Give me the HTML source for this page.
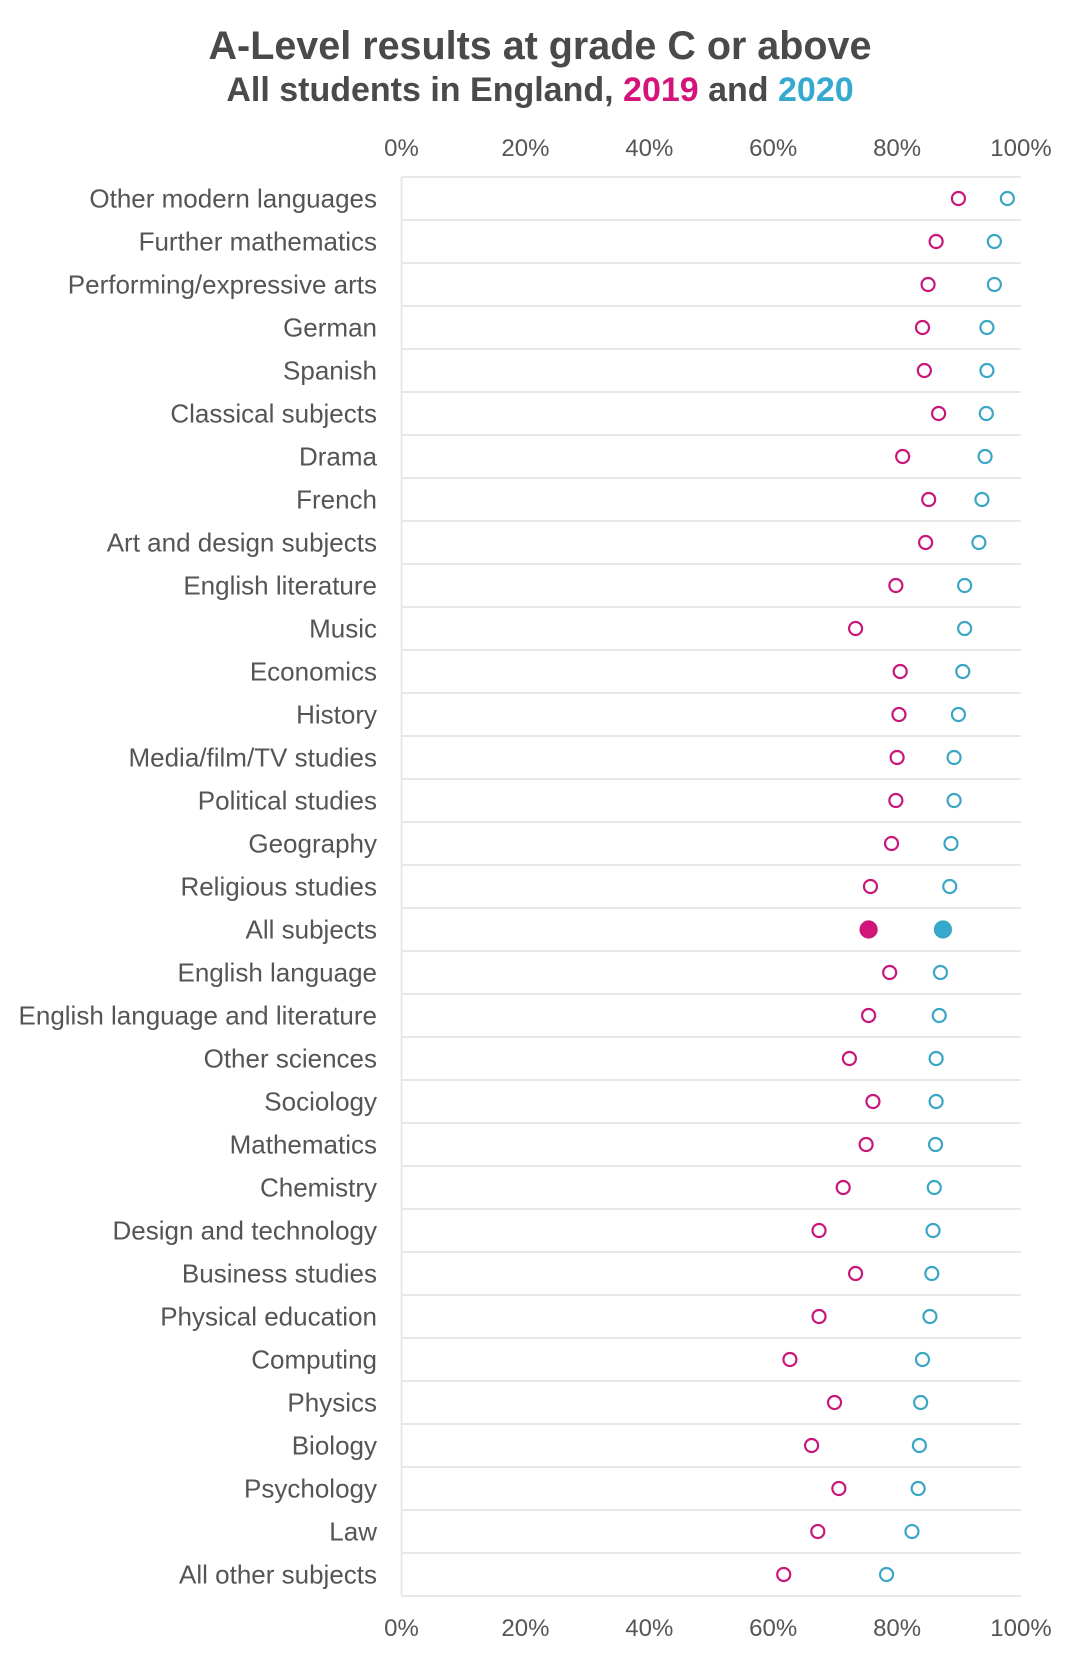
<!DOCTYPE html>
<html><head><meta charset="utf-8"><style>
html,body{margin:0;padding:0;background:#fff;}
svg text{font-family:"Liberation Sans",sans-serif;}
</style></head><body>
<svg id="chart" width="1080" height="1657" xmlns="http://www.w3.org/2000/svg">
<text x="540" y="59" text-anchor="middle" font-size="39.5" font-weight="bold" fill="#4a4a4a">A-Level results at grade C or above</text>
<text x="540" y="101" text-anchor="middle" font-size="34" font-weight="bold" fill="#4a4a4a">All students in England, <tspan fill="#d4147a">2019</tspan> and <tspan fill="#36a9cf">2020</tspan></text>
<g id="grid"></g><g id="labels"></g><g id="marks"></g><g id="ticks"></g>
</svg>
<script>
const categories = ["Other modern languages","Further mathematics","Performing/expressive arts","German","Spanish","Classical subjects","Drama","French","Art and design subjects","English literature","Music","Economics","History","Media/film/TV studies","Political studies","Geography","Religious studies","All subjects","English language","English language and literature","Other sciences","Sociology","Mathematics","Chemistry","Design and technology","Business studies","Physical education","Computing","Physics","Biology","Psychology","Law","All other subjects"];
const values2019 = [89.9,86.3,85.0,84.1,84.4,86.7,80.9,85.1,84.6,79.8,73.3,80.5,80.3,80.0,79.8,79.1,75.7,75.4,78.8,75.4,72.3,76.1,75.0,71.3,67.4,73.3,67.4,62.7,69.9,66.2,70.6,67.2,61.7];
const values2020 = [97.8,95.7,95.7,94.5,94.5,94.4,94.2,93.7,93.2,90.9,90.9,90.6,89.9,89.2,89.2,88.7,88.5,87.4,87.0,86.8,86.3,86.3,86.2,86.0,85.8,85.6,85.3,84.1,83.8,83.6,83.4,82.4,78.3];
const tickValues = [0,20,40,60,80,100];
const tickLabels = ["0%","20%","40%","60%","80%","100%"];
const highlightCategory = "All subjects";

const NS="http://www.w3.org/2000/svg";
const x0=401.5,x1=1021,yTop=177,step=43.0;
function xScale(v){return x0+(x1-x0)*v/100;}
function yScale(i){return yTop+step*(i+0.5);}
function mk(tag,attrs,parent){const e=document.createElementNS(NS,tag);for(const k in attrs)e.setAttribute(k,attrs[k]);parent.appendChild(e);return e;}
const grid=document.getElementById('grid'),labels=document.getElementById('labels'),marks=document.getElementById('marks'),ticks=document.getElementById('ticks');
const yBottom=yTop+step*categories.length;
for(let i=0;i<=categories.length;i++){
  const l=mk('line',{x1:x0,x2:x1,y1:yTop+step*i,y2:yTop+step*i,stroke:'#e8e8e8','stroke-width':2},grid);
  
  
}
const ax=mk('line',{x1:x0,x2:x0,y1:yTop,y2:yBottom,stroke:'#e8e8e8','stroke-width':2},grid);


categories.forEach((c,i)=>{
  const t=mk('text',{x:377,y:yScale(i)+9,'text-anchor':'end','font-size':26,fill:'#555'},labels);
  t.textContent=c;
  
  
  const filled=c===highlightCategory;
  const a=mk('circle',{cx:xScale(values2019[i]),cy:yScale(i),r:filled?8:6.5,fill:filled?'#d4147a':'#fff',stroke:'#c8167a','stroke-width':2.2},marks);
  
  
  const b=mk('circle',{cx:xScale(values2020[i]),cy:yScale(i),r:filled?8:6.5,fill:filled?'#36a9cf':'#fff',stroke:'#3aa6c4','stroke-width':2.2},marks);
  
  
});
tickValues.forEach((v,i)=>{
  [156,1636].forEach(y=>{
    const t=mk('text',{x:xScale(v),y:y,'text-anchor':'middle','font-size':24,fill:'#555'},ticks);
    t.textContent=tickLabels[i];
    
    
  });
});
</script>
</body></html>
